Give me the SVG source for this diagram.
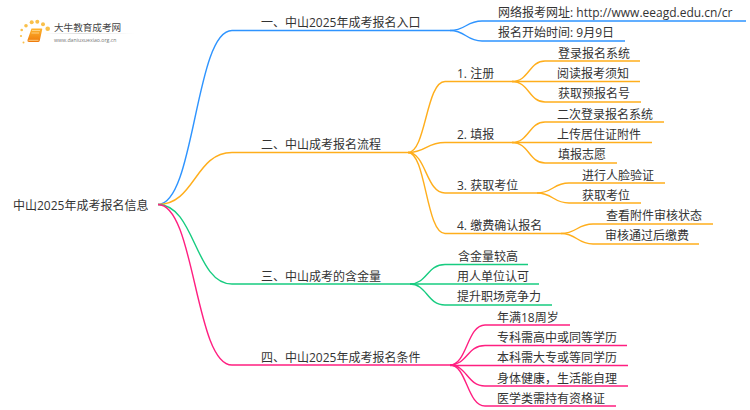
<svg xmlns="http://www.w3.org/2000/svg" width="750" height="410" viewBox="0 0 750 410">
<defs>
<style>
text{font-family:"Open Sans","Noto Sans CJK SC",sans-serif;font-size:12px;fill:#333}
.c{fill:none;stroke-width:1.4}
.b{stroke:#2E94FF}.o{stroke:#FFAE1C}.g{stroke:#17CC80}.p{stroke:#FF1F80}
</style>
<linearGradient id="bk" x1="0" y1="0" x2="0" y2="1"><stop offset="0" stop-color="#FFB52E"/><stop offset="1" stop-color="#EE7A0C"/></linearGradient>
<linearGradient id="ln" x1="0" y1="0" x2="1" y2="0"><stop offset="0" stop-color="#ddd" stop-opacity="0"/><stop offset=".4" stop-color="#ddd"/><stop offset="1" stop-color="#ddd" stop-opacity="0"/></linearGradient>
</defs>
<rect width="750" height="410" fill="#fff"/>
<g id="logo">
<g fill="#F9C04A"><circle cx="21.700" cy="30" r="1.300"/><circle cx="26" cy="25.700" r="1.800"/><circle cx="31.700" cy="22.300" r="2"/><circle cx="37.300" cy="21.700" r="2"/><circle cx="43" cy="24.300" r="2"/><circle cx="47.700" cy="28.700" r="2.300"/><circle cx="21" cy="36" r="1.100"/><circle cx="23.500" cy="42.500" r="1"/></g>
<path d="M31.500 28.500H41.500Q42.500 28.500 42.200 29.500L39.800 40.500Q39.500 42 38 42H29Q27 42 27.500 40Z" fill="url(#bk)"/>
<path d="M32 30.500H40M31.500 33H39" stroke="#FFE3A6" stroke-width=".7" fill="none"/>
<path d="M28.500 40.300H38.500" stroke="#FFDFA0" stroke-width=".8" fill="none"/>
<rect x="44" y="33" width="90" height="1" fill="url(#ln)"/>
<text x="54" y="31" style="font-size:9.600px;fill:#444">大牛教育成考网</text>
<text x="54" y="41.500" style="font-size:5.200px;fill:#777">www.daniuxuexiao.org.cn</text>
</g>
<g id="connectors">
<path class="c b" d="M158 204.500C195 204.500 195 30.500 232 30.500H450"/>
<path class="c b" d="M450 30.500C466 30.500 466 21 482 21H746"/>
<path class="c b" d="M450 30.500C466 30.500 466 41 482 41H625"/>
<path class="c o" d="M158 204.500C195 204.500 195 152.500 232 152.500H408"/>
<path class="c o" d="M408 152.500C426 152.500 426 81.500 445 81.500H512"/>
<path class="c o" d="M408 152.500C426 152.500 426 142.500 445 142.500H512"/>
<path class="c o" d="M408 152.500C426 152.500 426 193 445 193H537"/>
<path class="c o" d="M408 152.500C426 152.500 426 233.500 445 233.500H561"/>
<path class="c o" d="M512 81.500C529 81.500 529 61 545 61H640"/>
<path class="c o" d="M512 81.500H640"/>
<path class="c o" d="M512 81.500C529 81.500 529 102 545 102H641"/>
<path class="c o" d="M512 142.500C529 142.500 529 122 545 122H664"/>
<path class="c o" d="M512 142.500H652"/>
<path class="c o" d="M512 142.500C529 142.500 529 163 545 163H617"/>
<path class="c o" d="M537 193C553 193 553 183 569 183H665"/>
<path class="c o" d="M537 193C553 193 553 203 569 203H641"/>
<path class="c o" d="M561 233.500C577 233.500 577 224 593 224H713"/>
<path class="c o" d="M561 233.500C577 233.500 577 244 593 244H699"/>
<path class="c g" d="M158 204.500C195 204.500 195 284 232 284H410"/>
<path class="c g" d="M410 284C427 284 427 264.500 445 264.500H528"/>
<path class="c g" d="M410 284H539"/>
<path class="c g" d="M410 284C427 284 427 305 445 305H552"/>
<path class="c p" d="M158 204.500C195 204.500 195 365 232 365H450"/>
<path class="c p" d="M450 365C467 365 467 325 485 325H570"/>
<path class="c p" d="M450 365C467 365 467 345.500 485 345.500H627"/>
<path class="c p" d="M450 365.500H628"/>
<path class="c p" d="M450 365C467 365 467 386 485 386H628"/>
<path class="c p" d="M450 365C467 365 467 406 485 406H616"/>
</g>
<g id="root"><text x="13" y="210">中山2025年成考报名信息</text></g>
<g id="n1"><text x="261" y="27">一、中山2025年成考报名入口</text></g>
<g id="n1-1"><text x="498" y="17">网络报考网址: http://www.eeagd.edu.cn/cr</text></g>
<g id="n1-2"><text x="498" y="37">报名开始时间: 9月9日</text></g>
<g id="n2"><text x="261" y="149">二、中山成考报名流程</text></g>
<g id="n2-1"><text x="457" y="78">1. 注册</text></g>
<g id="n2-1-1"><text x="558" y="58">登录报名系统</text></g>
<g id="n2-1-2"><text x="557" y="78">阅读报考须知</text></g>
<g id="n2-1-3"><text x="558" y="98">获取预报名号</text></g>
<g id="n2-2"><text x="457" y="139">2. 填报</text></g>
<g id="n2-2-1"><text x="557" y="119">二次登录报名系统</text></g>
<g id="n2-2-2"><text x="557" y="139">上传居住证附件</text></g>
<g id="n2-2-3"><text x="558" y="159">填报志愿</text></g>
<g id="n2-3"><text x="457" y="190">3. 获取考位</text></g>
<g id="n2-3-1"><text x="582" y="180">进行人脸验证</text></g>
<g id="n2-3-2"><text x="582" y="200">获取考位</text></g>
<g id="n2-4"><text x="457" y="230">4. 缴费确认报名</text></g>
<g id="n2-4-1"><text x="606" y="220">查看附件审核状态</text></g>
<g id="n2-4-2"><text x="605" y="240">审核通过后缴费</text></g>
<g id="n3"><text x="261" y="281">三、中山成考的含金量</text></g>
<g id="n3-1"><text x="458" y="261">含金量较高</text></g>
<g id="n3-2"><text x="457" y="281">用人单位认可</text></g>
<g id="n3-3"><text x="457" y="301">提升职场竞争力</text></g>
<g id="n4"><text x="261" y="362">四、中山2025年成考报名条件</text></g>
<g id="n4-1"><text x="497" y="322">年满18周岁</text></g>
<g id="n4-2"><text x="497" y="342">专科需高中或同等学历</text></g>
<g id="n4-3"><text x="497" y="362">本科需大专或等同学历</text></g>
<g id="n4-4"><text x="497" y="383">身体健康，生活能自理</text></g>
<g id="n4-5"><text x="497" y="403">医学类需持有资格证</text></g>
</svg>
